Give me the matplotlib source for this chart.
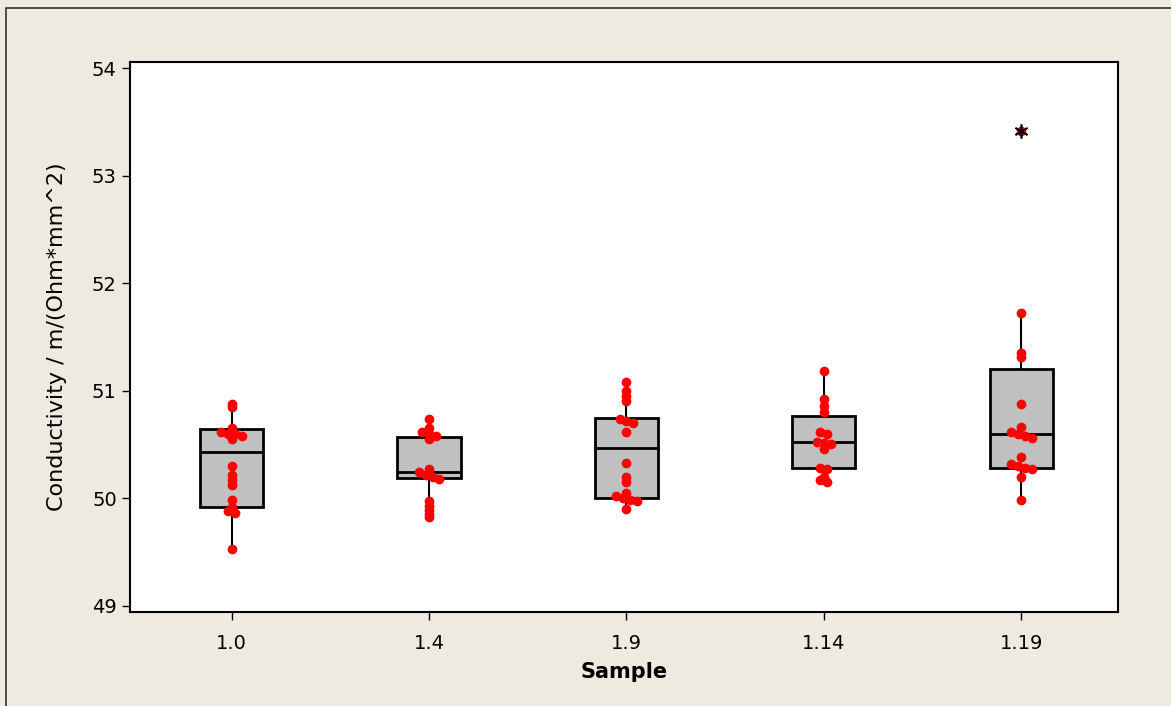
import numpy as np
import matplotlib
matplotlib.use('Agg')
import matplotlib.pyplot as plt
from matplotlib.patches import Rectangle

# samples and individual values
samples = ['1.0', '1.4', '1.9', '1.14', '1.19']

vals_10 = [50.88, 50.85, 50.65, 50.62, 50.60, 50.60, 50.58, 50.55, 50.30,
           50.22, 50.17, 50.12, 49.98, 49.92, 49.88, 49.86, 49.53]
vals_14 = [50.74, 50.65, 50.62, 50.60, 50.58, 50.55, 50.27, 50.24, 50.22,
           50.20, 50.18, 49.97, 49.93, 49.89, 49.85, 49.82]
vals_19 = [51.08, 51.00, 50.95, 50.90, 50.74, 50.72, 50.70, 50.62, 50.33,
           50.20, 50.15, 50.05, 50.02, 50.00, 49.98, 49.97, 49.90]
vals_114 = [51.18, 50.92, 50.86, 50.80, 50.62, 50.60, 50.52, 50.51, 50.50,
            50.46, 50.28, 50.27, 50.20, 50.17, 50.15]
vals_119 = [53.42, 51.72, 51.35, 51.31, 50.88, 50.66, 50.62, 50.60, 50.58,
            50.56, 50.38, 50.32, 50.30, 50.28, 50.27, 50.20, 49.98]
all_vals = [vals_10, vals_14, vals_19, vals_114, vals_119]

# box summary (Minitab style)
q1 = [49.92, 50.19, 50.00, 50.28, 50.28]
med = [50.43, 50.24, 50.47, 50.52, 50.60]
q3 = [50.64, 50.57, 50.75, 50.76, 51.20]
whis_lo = [49.53, 49.82, 49.90, 50.15, 49.98]
whis_hi = [50.88, 50.74, 51.08, 51.18, 51.72]
outliers = [[], [], [], [], [53.42]]

bg = '#EEEAE0'
fig = plt.figure(figsize=(11.71, 7.06), dpi=100, facecolor=bg)
fig.patches.append(Rectangle((6 / 1171, -0.01), 1.2, 1 - 8 / 706 + 0.01,
                             transform=fig.transFigure, fill=False,
                             edgecolor='#333333', lw=1.2))
ax = fig.add_axes([130 / 1171, 1 - 612 / 706, (1118 - 130) / 1171, (612 - 62) / 706])
ax.set_facecolor('white')

stats = []
for i in range(len(samples)):
    stats.append(dict(q1=q1[i], med=med[i], q3=q3[i], whislo=whis_lo[i],
                      whishi=whis_hi[i], fliers=outliers[i]))

pos = np.arange(1, len(samples) + 1)
ax.bxp(stats, positions=pos, widths=0.32, patch_artist=True, showcaps=False,
       boxprops=dict(facecolor='#C0C0C0', edgecolor='black', lw=2),
       medianprops=dict(color='black', lw=2),
       whiskerprops=dict(color='black', lw=1.5),
       flierprops=dict(marker=(6, 2, 0), markeredgecolor='black', markersize=10,
                       markeredgewidth=1.2, zorder=5),
       zorder=2)

# individual values, spread sideways where they pile up
for p, v in zip(pos, all_vals):
    v = sorted(v, reverse=True)
    groups = [[v[0]]]
    for a in v[1:]:
        if groups[-1][-1] - a < 0.025:
            groups[-1].append(a)
        else:
            groups.append([a])
    for g in groups:
        n = len(g)
        offs = (np.arange(n) - (n - 1) / 2) * 0.035
        ax.plot(p + offs, g, 'o', color='red', markersize=6, mec='red', zorder=4)

ax.set_xlim(0.485, 5.49)
ax.set_ylim(48.94, 54.06)
ax.set_yticks([49, 50, 51, 52, 53, 54])
ax.set_xticks(pos)
ax.set_xticklabels(samples)
ax.tick_params(axis='both', direction='out', length=6, width=1, labelsize=14,
               colors='black')
ax.tick_params(axis='x', pad=10)
for s in ax.spines.values():
    s.set_linewidth(1.5)

ax.set_xlabel('Sample', fontsize=15, fontweight='bold', labelpad=6)
ax.set_ylabel('Conductivity / m/(Ohm*mm^2)', fontsize=16, labelpad=18)

fig.savefig('out.png', dpi=100, facecolor=bg)
